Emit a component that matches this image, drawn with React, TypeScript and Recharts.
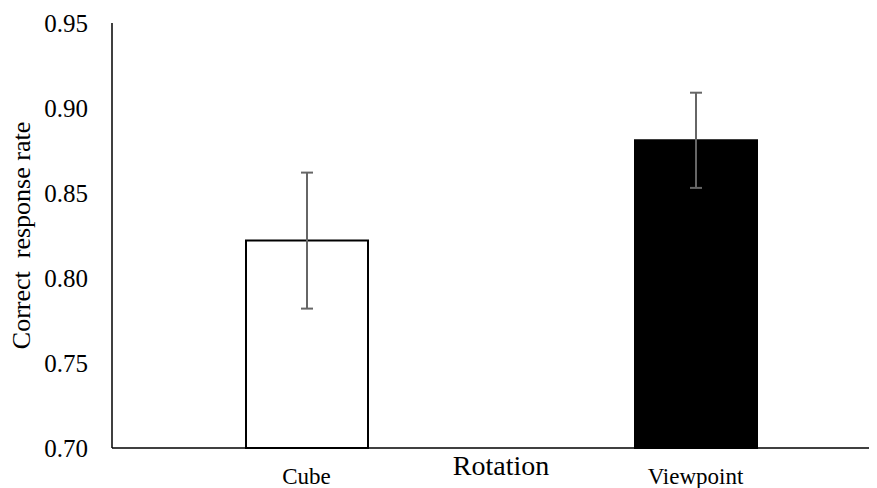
import { Bar, BarChart, Cell, ErrorBar, XAxis, YAxis } from "recharts";

const categories = ["Cube", "Viewpoint"];
const rates = [0.822, 0.881];
const errors = [0.04, 0.028];
const yTicks = [0.7, 0.75, 0.8, 0.85, 0.9, 0.95];

const data = categories.map((name, i) => ({ name, rate: rates[i], err: errors[i] }));

const barFills = ["#ffffff", "#000000"];
const font = "Liberation Serif";

const App = () => {
  return (
    <div
      style={{
        width: 877,
        height: 488,
        margin: "-8px 0 0 -8px",
        overflow: "hidden",
        background: "#fff",
        fontFamily: "'Liberation Serif', serif",
      }}
    >
      <BarChart
        width={900}
        height={488}
        data={data}
        margin={{ top: 23, right: 10, bottom: 0, left: 0 }}
        barSize={122}
        style={{ fontFamily: "'Liberation Serif', serif" }}
      >
        <XAxis
          dataKey="name"
          interval={0}
          height={40}
          tickLine={false}
          tickSize={0}
          tickMargin={20}
          axisLine={{ stroke: "#000", strokeWidth: 1.5 }}
          tick={{ fill: "#000", fontSize: 23, fontFamily: font }}
          label={{
            value: "Rotation",
            position: "insideTop",
            offset: 7,
            fill: "#000",
            fontSize: 28,
            fontFamily: font,
          }}
        />
        <YAxis
          domain={[0.7, 0.95]}
          ticks={yTicks}
          width={112}
          tickLine={false}
          tickSize={0}
          tickMargin={24}
          tickFormatter={(v) => v.toFixed(2)}
          axisLine={{ stroke: "#000", strokeWidth: 1.5 }}
          tick={{ fill: "#000", fontSize: 25, fontFamily: font }}
          label={{
            value: "Correct\u00a0 response rate",
            angle: -90,
            position: "insideLeft",
            offset: 21,
            fill: "#000",
            fontSize: 26,
            fontFamily: font,
            style: { textAnchor: "middle" },
          }}
        />
        <Bar dataKey="rate" isAnimationActive={false} stroke="#000" strokeWidth={2}>
          {data.map((d, i) => (
            <Cell key={d.name} fill={barFills[i]} />
          ))}
          <ErrorBar dataKey="err" width={6} stroke="#666" strokeWidth={2} isAnimationActive={false} />
        </Bar>
      </BarChart>
    </div>
  );
};

export default App;
